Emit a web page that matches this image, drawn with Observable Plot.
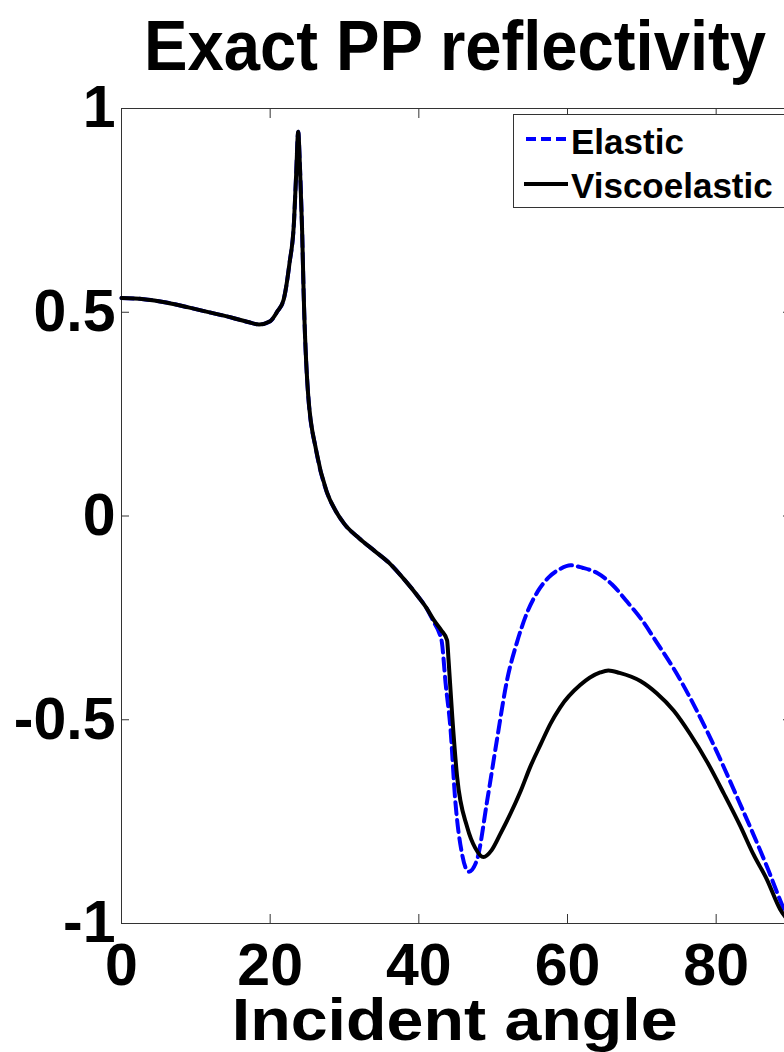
<!DOCTYPE html>
<html>
<head>
<meta charset="utf-8">
<script src="https://cdn.jsdelivr.net/npm/d3@7"></script>
<script src="https://cdn.jsdelivr.net/npm/@observablehq/plot@0.6"></script>
<style>
  html, body { margin: 0; padding: 0; background: #fff; }
  #wrap { position: relative; width: 784px; height: 1052px; overflow: hidden; background: #fff;
          font-family: "Liberation Sans", Arial, Helvetica, sans-serif; font-weight: bold; color: #000; }
  .block { position: relative; width: 784px; }
  .lbl { position: absolute; white-space: nowrap; line-height: 0.72; transform-origin: 50% 50%; }
  #chart svg { display: block; overflow: visible; }
  #legend { position: absolute; left: 513px; top: 114px; width: 300px; height: 94px;
            border: 1px solid #333; background: #fff; box-sizing: border-box; }
  #legend .item { position: absolute; font-size: 35px; line-height: 1; white-space: nowrap; }
  #legend svg { position: absolute; left: 0; top: 0; }
</style>
</head>
<body>
<div id="wrap">
  <div class="block" id="titleBlock" style="height:90px"><span class="lbl" id="title" style="font-size:70px"></span></div>
  <div class="block" id="chart" style="height:905px"></div>
  <div class="block" id="xlabBlock" style="height:57px"><span class="lbl" id="xlab" style="font-size:60px"></span></div>
  <div id="legend"></div>
</div>
<script>
// ---- Text ----
const titleText = "Exact PP reflectivity";
const xLabelText = "Incident angle";
const seriesNames = ["Elastic", "Viscoelastic"];
const seriesColors = ["#0000ff", "#000000"];

// ---- Ticks ----
const xTicks = [0, 20, 40, 60, 80];
const yTicks = [-1, -0.5, 0, 0.5, 1];
const xTickLabels = ["0", "20", "40", "60", "80"];
const yTickLabels = ["-1", "-0.5", "0", "0.5", "1"];

// ---- Data ----
const elasticAngle = [0, 3, 6, 9, 12, 15, 17, 18.5, 20, 21, 21.8, 22.6, 23.2, 23.5, 23.77, 24.0, 24.3, 24.5, 25.1, 26.2, 27.6, 28.8, 30, 32, 34, 36, 38, 40,
  41, 42, 42.7, 43.1, 43.6, 44.25, 44.9, 45.8, 46.7, 47.8, 49.2, 50.5, 51.9, 53.2, 54.5, 56, 57.5, 59, 60.4, 62, 64, 66, 68, 70, 72, 74.3, 78.8, 83.3, 86.8, 89, 90];
const elasticR = [0.535, 0.532, 0.524, 0.512, 0.499, 0.486, 0.476, 0.470, 0.478, 0.503, 0.53, 0.62, 0.72, 0.84, 0.943, 0.86, 0.70, 0.55, 0.30, 0.16, 0.06, 0.013, -0.02, -0.055, -0.085, -0.115, -0.155, -0.2,
  -0.225, -0.26, -0.285, -0.31, -0.41, -0.52, -0.698, -0.828, -0.873, -0.845, -0.698, -0.55, -0.40, -0.31, -0.24, -0.185, -0.15, -0.13, -0.121, -0.127, -0.14, -0.168, -0.21, -0.255, -0.31, -0.375, -0.529, -0.71, -0.859, -0.96, -1];

const viscoAngle = [0, 3, 6, 9, 12, 15, 17, 18.5, 20, 21, 21.8, 22.6, 23.2, 23.5, 23.77, 24.0, 24.3, 24.5, 25.1, 26.2, 27.6, 28.8, 30, 32, 34, 36, 38, 40,
  41, 42, 43, 43.8, 44.0, 44.5, 45.15, 46.5, 47.6, 48.7, 49.8, 51, 53.7, 55, 56.4, 57.7, 59, 61.7, 64.4, 65.5, 67, 69.8, 72, 74.3, 76.5, 78.8, 81, 83.3, 85, 86.8, 88.6, 90];
const viscoR = [0.535, 0.532, 0.524, 0.512, 0.499, 0.486, 0.476, 0.470, 0.478, 0.503, 0.53, 0.62, 0.72, 0.84, 0.943, 0.86, 0.70, 0.55, 0.30, 0.16, 0.06, 0.013, -0.02, -0.055, -0.085, -0.115, -0.155, -0.2,
  -0.225, -0.255, -0.28, -0.305, -0.354, -0.493, -0.64, -0.763, -0.815, -0.837, -0.82, -0.779, -0.675, -0.615, -0.56, -0.51, -0.47, -0.415, -0.384, -0.379, -0.385, -0.405, -0.435, -0.478, -0.535, -0.604, -0.68, -0.763, -0.83, -0.891, -0.965, -1];

const elastic = elasticAngle.map((a, i) => ({angle: a, r: elasticR[i]}));
const visco = viscoAngle.map((a, i) => ({angle: a, r: viscoR[i]}));

const xFmt = d => xTickLabels[xTicks.indexOf(d)];
const yFmt = d => yTickLabels[yTicks.indexOf(d)];
const axisColor = "#333";

const plot = Plot.plot({
  width: 784,
  height: 905,
  marginLeft: 121,
  marginRight: -6,
  marginTop: 18,
  marginBottom: 72,
  style: {fontFamily: '"Liberation Sans", Arial, sans-serif', fontWeight: "bold", fontSize: "59px", color: "#000", background: "transparent", overflow: "visible"},
  x: {domain: [0, 90]},
  y: {domain: [-1, 1]},
  marks: [
    Plot.frame({stroke: axisColor, strokeWidth: 1}),
    Plot.line(elastic, {x: "angle", y: "r", stroke: seriesColors[0], strokeWidth: 4, strokeDasharray: "12,6", curve: "monotone-x"}),
    Plot.line(visco, {x: "angle", y: "r", stroke: seriesColors[1], strokeWidth: 4, curve: "monotone-x"}),
    // inward ticks
    Plot.axisX({anchor: "bottom", ticks: xTicks, tickSize: -9, tickFormat: () => "", stroke: axisColor, label: null}),
    Plot.axisX({anchor: "top", ticks: xTicks, tickSize: -9, tickFormat: () => "", stroke: axisColor, label: null}),
    Plot.axisY({anchor: "left", ticks: yTicks, tickSize: -8, tickFormat: () => "", stroke: axisColor, label: null}),
    Plot.axisY({anchor: "right", ticks: yTicks, tickSize: -8, tickFormat: () => "", stroke: axisColor, label: null}),
    // tick labels
    Plot.axisX({anchor: "bottom", ticks: xTicks, tickSize: 0, tickPadding: 20, tickFormat: xFmt, label: null, fill: "#000"}),
    Plot.axisY({anchor: "left", ticks: yTicks, tickSize: 0, tickPadding: 6, tickFormat: yFmt, label: null, fill: "#000"})
  ]
});
document.getElementById("chart").appendChild(plot);

// ---- Title and axis label (HTML, above / below the SVG) ----
// with line-height 0.72 the baseline sits ~0.7065em below the box top
function placeLabel(el, text, cx, baseline, fontPx, targetWidth) {
  el.textContent = text;
  const w = el.getBoundingClientRect().width;
  const k = targetWidth ? targetWidth / w : 1;
  el.style.left = (cx - w / 2) + "px";
  el.style.top = (baseline - 0.7065 * fontPx) + "px";
  el.style.transform = `scaleX(${k})`;
}
placeLabel(document.getElementById("title"), titleText, 455, 70, 70, 622);
placeLabel(document.getElementById("xlab"), xLabelText, 455, 1040 - 995, 60, 446);

// ---- Legend ----
const legend = d3.select("#legend");
const lsvg = legend.append("svg").attr("width", 300).attr("height", 94);
const bx = 513, by = 114;
lsvg.append("line").attr("x1", 525 - bx).attr("x2", 567 - bx).attr("y1", 138 - by).attr("y2", 138 - by)
  .attr("stroke", seriesColors[0]).attr("stroke-width", 4).attr("stroke-dasharray", "10,5");
lsvg.append("line").attr("x1", 523 - bx).attr("x2", 567 - bx).attr("y1", 183 - by).attr("y2", 183 - by)
  .attr("stroke", seriesColors[1]).attr("stroke-width", 4);
const baselines = [153, 197];
seriesNames.forEach((name, i) => {
  legend.append("span").attr("class", "item").text(name)
    .style("left", (570 - bx) + "px")
    .style("top", (baselines[i] - by - 0.8465 * 35) + "px");
});
</script>
</body>
</html>
